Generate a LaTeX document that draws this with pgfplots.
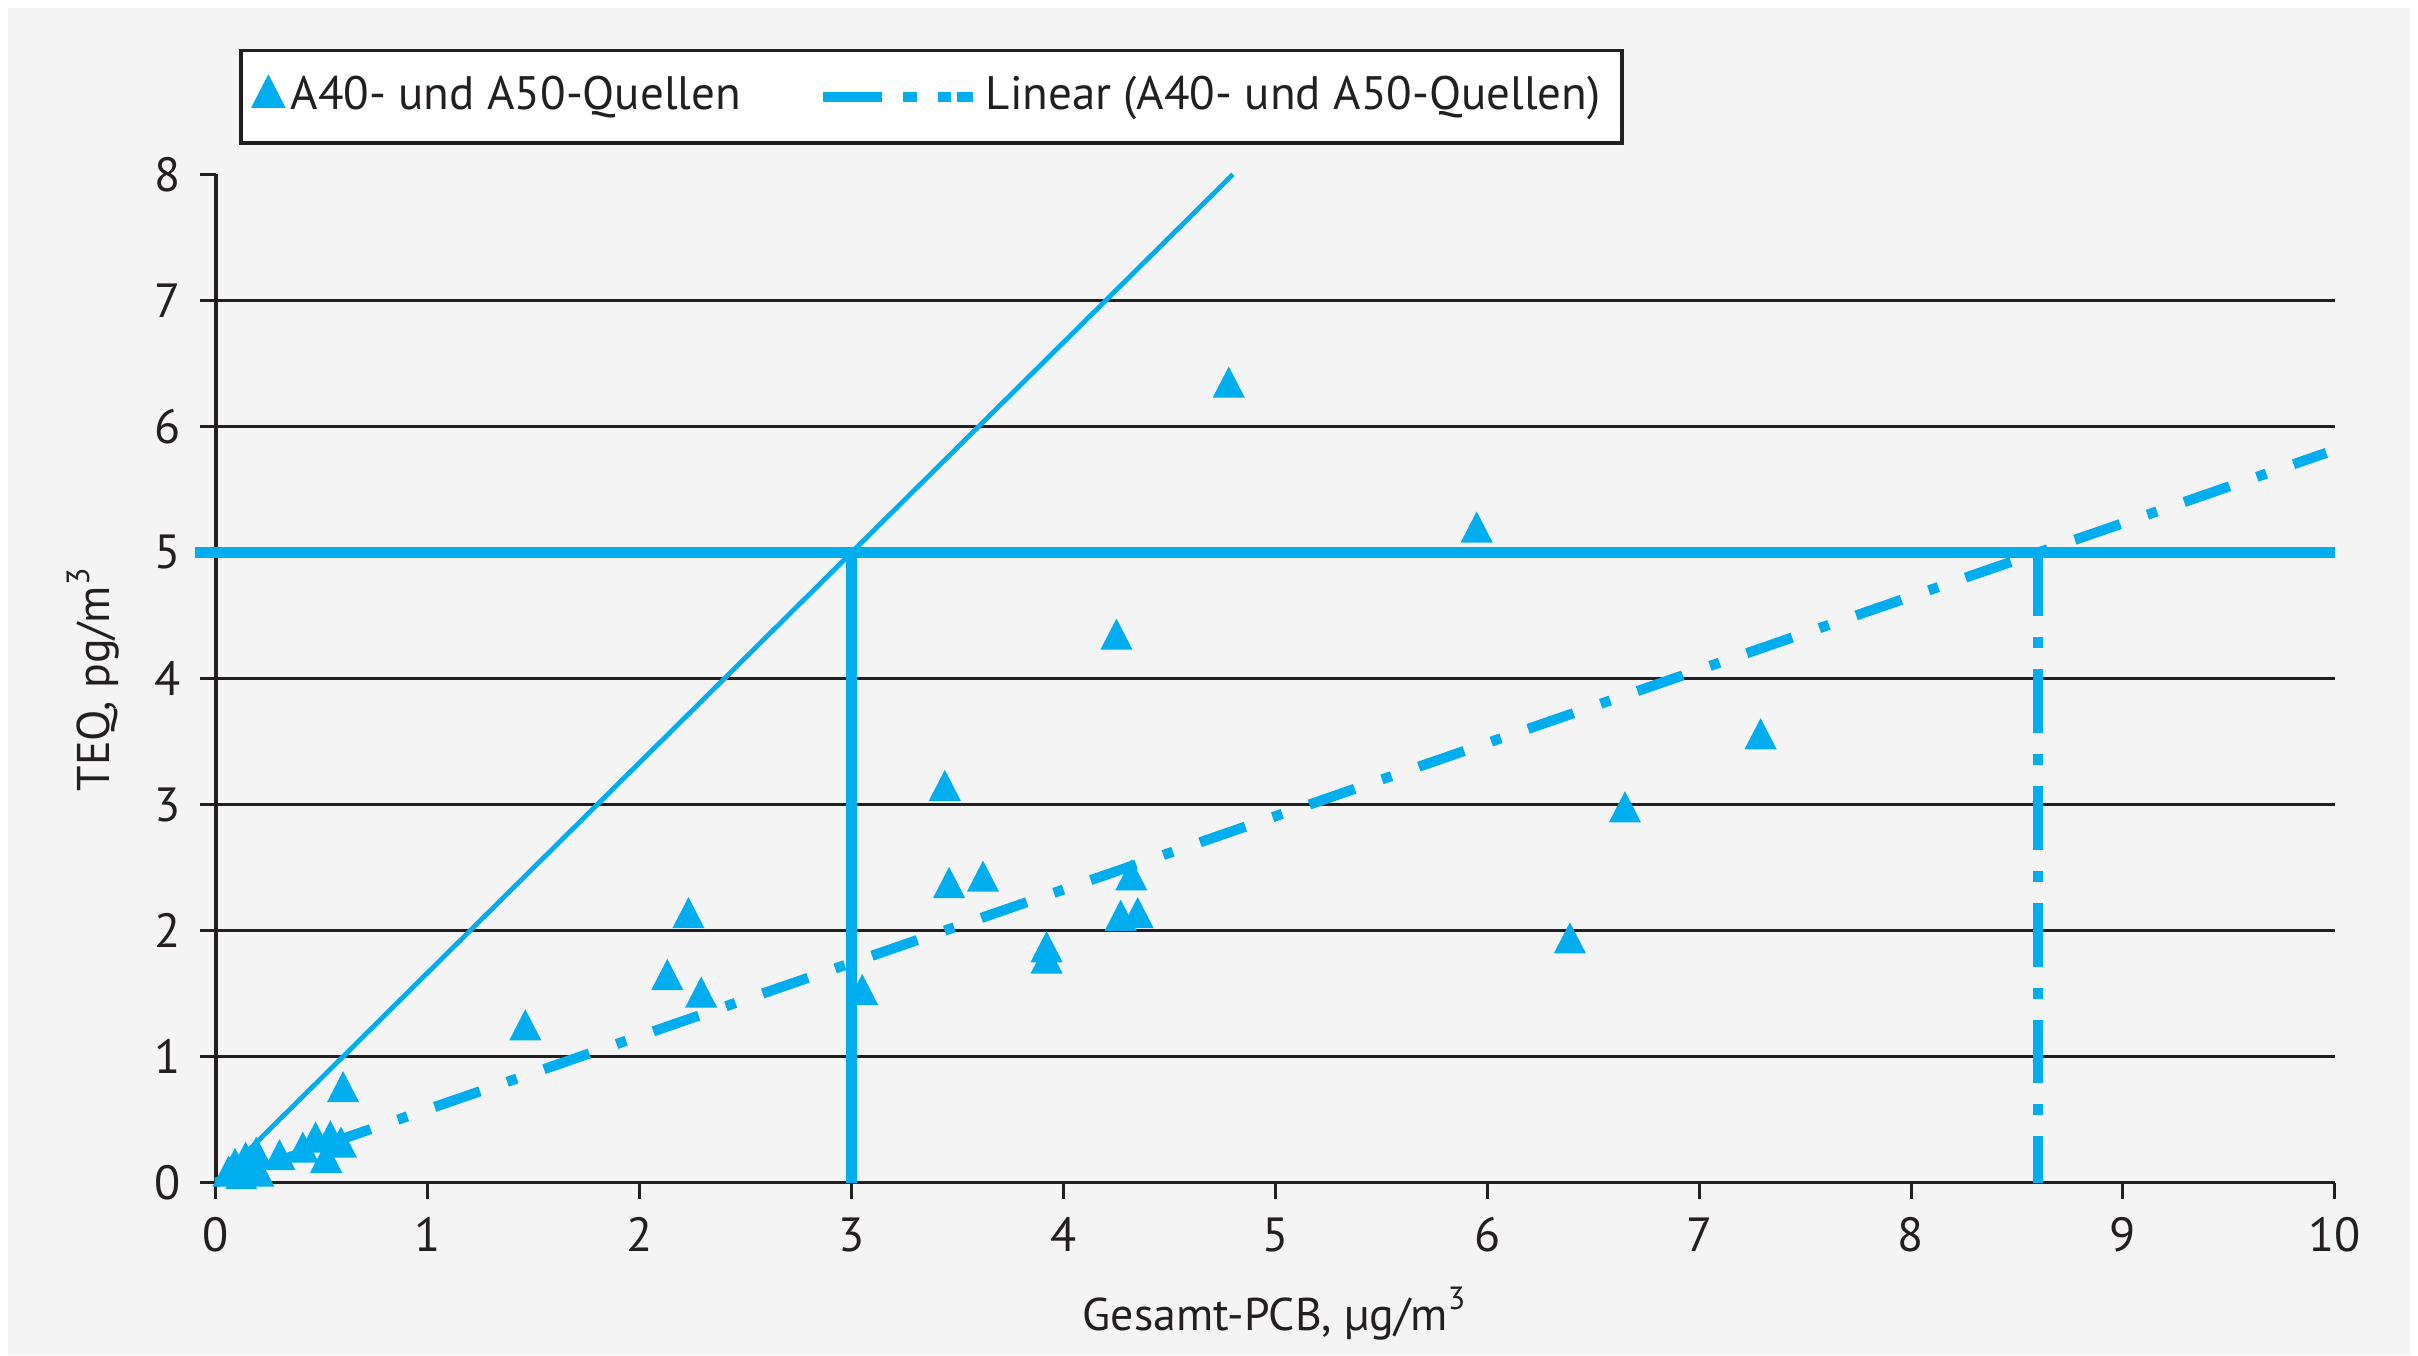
\documentclass[border=0pt]{standalone}
\usepackage{pgfplots}
\pgfplotsset{compat=1.18}
\usepackage{fontspec}
\setmainfont{PT Sans}
\definecolor{cy}{HTML}{00AEEF}
\definecolor{bg}{HTML}{F4F4F4}
\definecolor{tx}{HTML}{231F20}
\begin{document}
\begin{tikzpicture}
\fill[white] (0,0) rectangle (453.5pt,254.2pt);
\fill[bg] (1.5pt,0) rectangle (452pt,252.7pt);
\useasboundingbox (0,0) rectangle (453.5pt,254.2pt);
\begin{axis}[
  at={(40.5pt,32.4pt)}, anchor=south west,
  scale only axis, width=397.4pt, height=189.1pt,
  xmin=0, xmax=10, ymin=0, ymax=8,
  axis x line*=bottom, axis y line*=left,
  axis line style={tx, line width=0.6pt},
  xtick={0,...,10}, ytick={0,...,7},
  extra y ticks={8}, extra y tick style={grid=none},
  tick align=outside, major tick length=3pt,
  tick style={tx, line width=0.55pt},
  ymajorgrids, grid style={tx, line width=0.6pt},
  ticklabel style={font=\fontsize{9}{10}\selectfont, text=tx},
  /pgf/number format/assume math mode=true,
  xlabel={Gesamt-PCB, µg/m\textsuperscript{3}},
  ylabel={TEQ, pg/m\textsuperscript{3}},
  xlabel style={at={(axis description cs:0.5,-0.130)}, anchor=center, font=\fontsize{8.6}{10}\selectfont, text=tx},
  ylabel style={at={(axis description cs:-0.058,0.5)}, anchor=center, font=\fontsize{8.6}{10}\selectfont, text=tx},
  clip=false,
  legend columns=2,
  legend style={at={(rel axis cs:0,1)}, anchor=south west, xshift=4.3pt, yshift=5.5pt,
    draw=tx, line width=0.7pt, fill=white, font=\fontsize{8.8}{10}\selectfont, text=tx,
    inner ysep=2.8pt, inner xsep=2.5pt,
    nodes={inner xsep=1.5pt},
    /tikz/column 2/.style={column sep=13pt}},
  legend cell align=left,
]
% reference lines
\addplot[cy, line width=0.9pt, forget plot] coordinates {(0,0) (4.8,8)};
\addplot[cy, line width=2.1pt, forget plot] coordinates {(-0.1,5) (10,5)};
\addplot[cy, line width=2.0pt, forget plot] coordinates {(3,0) (3,5)};
\addplot[cy, line width=1.9pt, dash pattern=on 12pt off 3.9pt on 2.1pt off 3.9pt, forget plot] coordinates {(8.6,5) (8.6,0)};
% data
\addplot[only marks, mark=triangle*, mark size=3.1pt, color=cy, mark options={fill=cy, draw=cy, yscale=1.12}] coordinates {
(4.78,6.31) (5.95,5.16) (4.25,4.31) (7.29,3.52) (3.44,3.11) (6.65,2.94)
(3.46,2.34) (3.62,2.39) (4.32,2.40) (2.23,2.10) (4.27,2.08) (4.35,2.10)
(6.39,1.90) (3.92,1.83) (3.92,1.74) (2.13,1.61) (2.29,1.47) (3.05,1.49)
(1.46,1.21) (0.60,0.72)
(0.59,0.28) (0.54,0.33) (0.47,0.32) (0.41,0.24) (0.52,0.16) (0.30,0.18)
(0.19,0.20) (0.14,0.16) (0.09,0.11) (0.06,0.05) (0.12,0.03) (0.20,0.05)
};
\addlegendentry{A40- und A50-Quellen}
\addplot[cy, line width=1.9pt, dash pattern=on 9pt off 5.4pt on 1.9pt off 5.4pt,
  legend image code/.code={\draw[cy, line width=1.9pt, dash pattern=on 11pt off 4pt on 2.5pt off 4pt on 2.5pt off 1pt] (0pt,0pt) -- (28pt,0pt);}] coordinates {(0,0) (9.96,5.79)};
\addlegendentry{Linear (A40- und A50-Quellen)}
\end{axis}
\end{tikzpicture}
\end{document}
